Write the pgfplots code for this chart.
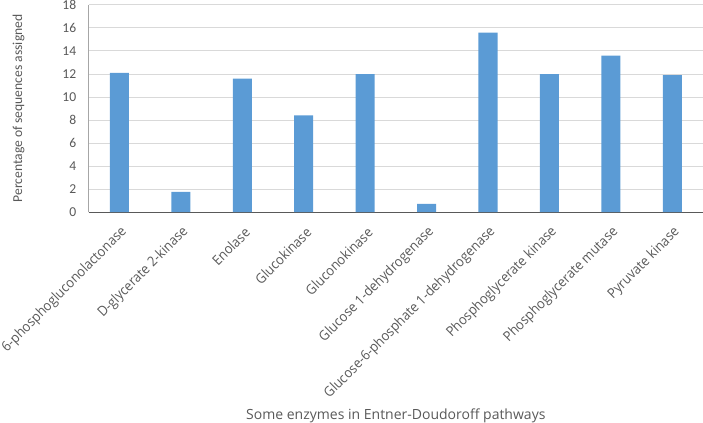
\documentclass[border=0pt]{standalone}
\usepackage{pgfplots}
\pgfplotsset{compat=1.18}
\usepackage{fontspec}
\setmainfont{Carlito}
\newfontfamily\xfont{Open Sans}
\newfontfamily\xtfont[FakeStretch=0.93]{Open Sans}
\definecolor{barblue}{HTML}{5B9BD5}
\definecolor{txtgray}{HTML}{595959}
\definecolor{gridgray}{HTML}{D9D9D9}
\definecolor{axgray}{HTML}{595959}
\newcommand{\yfont}{\fontsize{13.6bp}{16bp}\selectfont}
\newcommand{\xtickfont}{\xtfont\fontsize{13.8bp}{16bp}\selectfont}
\newcommand{\xlabfont}{\xfont\fontsize{14bp}{16bp}\selectfont}
\begin{document}
\begin{tikzpicture}
\useasboundingbox (-88.7bp,-211bp) rectangle (614.3bp,212bp);
\begin{axis}[
  at={(0,0)}, anchor=south west,
  scale only axis,
  width=614.3bp, height=207bp,
  ymin=0, ymax=18, ytick={0,2,...,18},
  xmin=-0.5, xmax=9.5,
  xtick={0,...,9},
  xticklabels={6-phosphogluconolactonase, D-glycerate 2-kinase, Enolase, Glucokinase, Gluconokinase, Glucose 1-dehydrogenase, Glucose-6-phosphate 1-dehydrogenase, Phosphoglycerate kinase, Phosphoglycerate mutase, Pyruvate kinase},
  axis x line*=bottom, axis y line*=left,
  axis line style={axgray, line width=1bp},
  x axis line style={-}, y axis line style={-, color=gray!70},
  major tick length=0pt,
  ymajorgrids, grid style={gridgray, line width=1bp},
  /pgf/number format/assume math mode=true,
  yticklabel style={font=\yfont, text=txtgray, xshift=-9bp},
  xticklabel style={font=\xtickfont, text=txtgray, xshift=7.5bp, yshift=-15.5bp, rotate=45, anchor=east},
  xlabel={Some enzymes in Entner-Doudoroff pathways},
  xlabel style={font=\xlabfont, text=txtgray, at={(axis description cs:0.5,-1.0)}, anchor=base},
  ylabel={Percentage of sequences assigned},
  ylabel style={font=\yfont, text=txtgray, at={(axis description cs:-0.114,0.5)}, anchor=center},
  ybar, bar width=0.31,
]
\addplot[fill=barblue, draw=none] coordinates {
  (0,12.1) (1,1.75) (2,11.6) (3,8.4) (4,12.0)
  (5,0.7) (6,15.6) (7,12.0) (8,13.6) (9,11.9)
};
\end{axis}
\end{tikzpicture}
\end{document}
